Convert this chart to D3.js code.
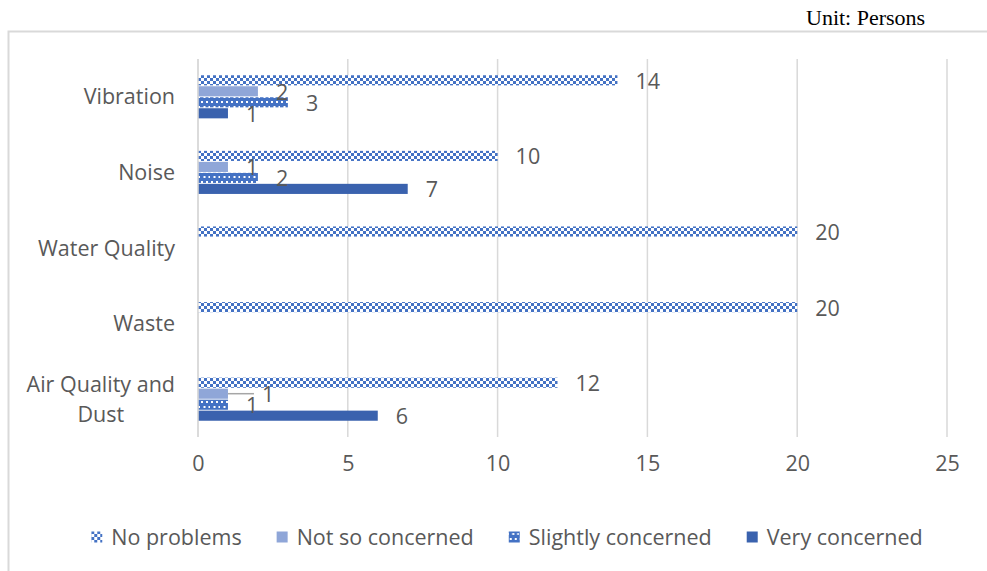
<!DOCTYPE html>
<html>
<head>
<meta charset="utf-8">
<script src="https://cdn.jsdelivr.net/npm/d3@7"></script>
<style>
  body { margin: 0; background: #fff; }
  text { font-family: "Open Sans", sans-serif; fill: #595959; }
</style>
</head>
<body>
<div id="chart"></div>
<script>
// categories top to bottom
const categories = ["Vibration", "Noise", "Water Quality", "Waste", "Air Quality and Dust"];
const seriesNames = ["No problems", "Not so concerned", "Slightly concerned", "Very concerned"];
const noProblems = [14, 10, 20, 20, 12];
const notSoConcerned = [2, 1, null, null, 1];
const slightlyConcerned = [3, 2, null, null, 1];
const veryConcerned = [1, 7, null, null, 6];
const xTicks = [0, 5, 10, 15, 20, 25];

const seriesValues = [noProblems, notSoConcerned, slightlyConcerned, veryConcerned];

const width = 987, height = 571;
const plot = { left: 198, right: 947, top: 59, bottom: 437 };
const fontSize = "21.5px";

const svg = d3.select("#chart").append("svg")
  .attr("width", width)
  .attr("height", height);

// patterns
const defs = svg.append("defs");
const checker = defs.append("pattern")
  .attr("id", "checker").attr("patternUnits", "userSpaceOnUse")
  .attr("width", 6).attr("height", 6);
checker.append("rect").attr("width", 6).attr("height", 6).attr("fill", "#fff");
checker.append("rect").attr("width", 3).attr("height", 3).attr("fill", "#4472c4");
checker.append("rect").attr("x", 3).attr("y", 3).attr("width", 3).attr("height", 3).attr("fill", "#4472c4");

const dots = defs.append("pattern")
  .attr("id", "dots").attr("patternUnits", "userSpaceOnUse")
  .attr("width", 10).attr("height", 10);
dots.append("rect").attr("width", 10).attr("height", 10).attr("fill", "#4472c4");
[[1, 1], [6, 1], [3.5, 6], [8.5, 6]].forEach(p => {
  dots.append("rect").attr("x", p[0]).attr("y", p[1]).attr("width", 2).attr("height", 2).attr("fill", "#fff");
});

const fills = ["url(#checker)", "#8fa6d8", "url(#dots)", "#3a62ae"];

// frame
svg.append("rect")
  .attr("x", 8.5).attr("y", 31.5)
  .attr("width", 1000).attr("height", 600)
  .attr("fill", "none").attr("stroke", "#d9d9d9").attr("stroke-width", 2);

svg.append("text")
  .attr("x", 806).attr("y", 25)
  .style("font-family", "'Liberation Serif', serif")
  .style("fill", "#000")
  .style("font-size", "22px")
  .text("Unit: Persons");

// scales
const xScale = d3.scaleLinear().domain([0, 25]).range([plot.left, plot.right]);
const yScale = d3.scaleBand().domain(categories)
  .range([plot.top, plot.bottom])
  .paddingInner(0.43).paddingOuter(0.215);
const ySub = d3.scaleBand().domain(seriesNames)
  .range([0, yScale.bandwidth()]).paddingInner(0.08);

// grid
svg.append("g").selectAll("line")
  .data(xTicks)
  .enter().append("line")
  .attr("x1", d => xScale(d)).attr("x2", d => xScale(d))
  .attr("y1", plot.top).attr("y2", plot.bottom)
  .attr("stroke", "#d9d9d9").attr("stroke-width", 1.5);

// x axis labels
const xAxis = d3.axisBottom(xScale).tickValues(xTicks).tickSize(0).tickPadding(19);
const gx = svg.append("g")
  .attr("transform", "translate(0," + plot.bottom + ")")
  .call(xAxis);
gx.select(".domain").remove();
gx.selectAll("text").style("font-size", fontSize).style("font-family", "'Open Sans', sans-serif").attr("fill", "#595959");

// category labels
const catG = svg.append("g");
categories.forEach(c => {
  const cy = yScale(c) + yScale.bandwidth() / 2;
  if (c === "Air Quality and Dust") {
    const lines = ["Air Quality and", "Dust"];
    const t = catG.append("text").attr("text-anchor", "middle").style("font-size", fontSize);
    lines.forEach((l, i) => {
      t.append("tspan").attr("y", cy + (i - 0.5) * 30).attr("dy", "0.35em").text(l);
    });
    const w = t.select("tspan").node().getComputedTextLength();
    t.selectAll("tspan").attr("x", 175 - w / 2);
  } else {
    catG.append("text")
      .attr("x", 175).attr("y", cy).attr("dy", "0.35em")
      .attr("text-anchor", "end").style("font-size", fontSize)
      .text(c);
  }
});

// bars
const barData = [];
categories.forEach((c, ci) => {
  seriesNames.forEach((s, si) => {
    const v = seriesValues[si][ci];
    if (v !== null) barData.push({ cat: c, series: s, si: si, value: v });
  });
});

svg.append("g").selectAll("rect")
  .data(barData)
  .enter().append("rect")
  .attr("x", xScale(0))
  .attr("y", d => yScale(d.cat) + ySub(d.series))
  .attr("width", d => xScale(d.value) - xScale(0))
  .attr("height", ySub.bandwidth())
  .attr("fill", d => fills[d.si]);

// axis line at 0
svg.append("line")
  .attr("x1", xScale(0)).attr("x2", xScale(0))
  .attr("y1", plot.top).attr("y2", plot.bottom)
  .attr("stroke", "#d9d9d9").attr("stroke-width", 1.5);

// data labels (one label moved out with leader line, as in original)
const labelShift = d => (d.cat === "Air Quality and Dust" && d.si === 1) ? 16 : 0;
const labels = svg.append("g");
barData.forEach(d => {
  const cy = yScale(d.cat) + ySub(d.series) + ySub.bandwidth() / 2;
  const x = xScale(d.value) + 18 + labelShift(d);
  if (labelShift(d) > 0) {
    labels.append("line")
      .attr("x1", xScale(d.value)).attr("x2", x - 8)
      .attr("y1", cy).attr("y2", cy)
      .attr("stroke", "#a6a6a6").attr("stroke-width", 1.5);
  }
  labels.append("text")
    .attr("x", x).attr("y", cy + 1).attr("dy", "0.35em")
    .style("font-size", fontSize)
    .text(d.value);
});

// legend
const legend = svg.append("g");
const items = seriesNames.map((s, i) => {
  const g = legend.append("g");
  g.append("rect").attr("width", 11).attr("height", 11).attr("y", -5.5).attr("fill", fills[i]);
  const t = g.append("text").attr("x", 20).attr("dy", "0.35em").style("font-size", fontSize).text(s);
  return { g: g, w: 20 + t.node().getComputedTextLength() };
});
const gap = 35;
const total = d3.sum(items, d => d.w) + gap * (items.length - 1);
let lx = 507 - total / 2;
items.forEach(it => {
  it.g.attr("transform", "translate(" + lx + ",537)");
  lx += it.w + gap;
});
</script>
</body>
</html>
